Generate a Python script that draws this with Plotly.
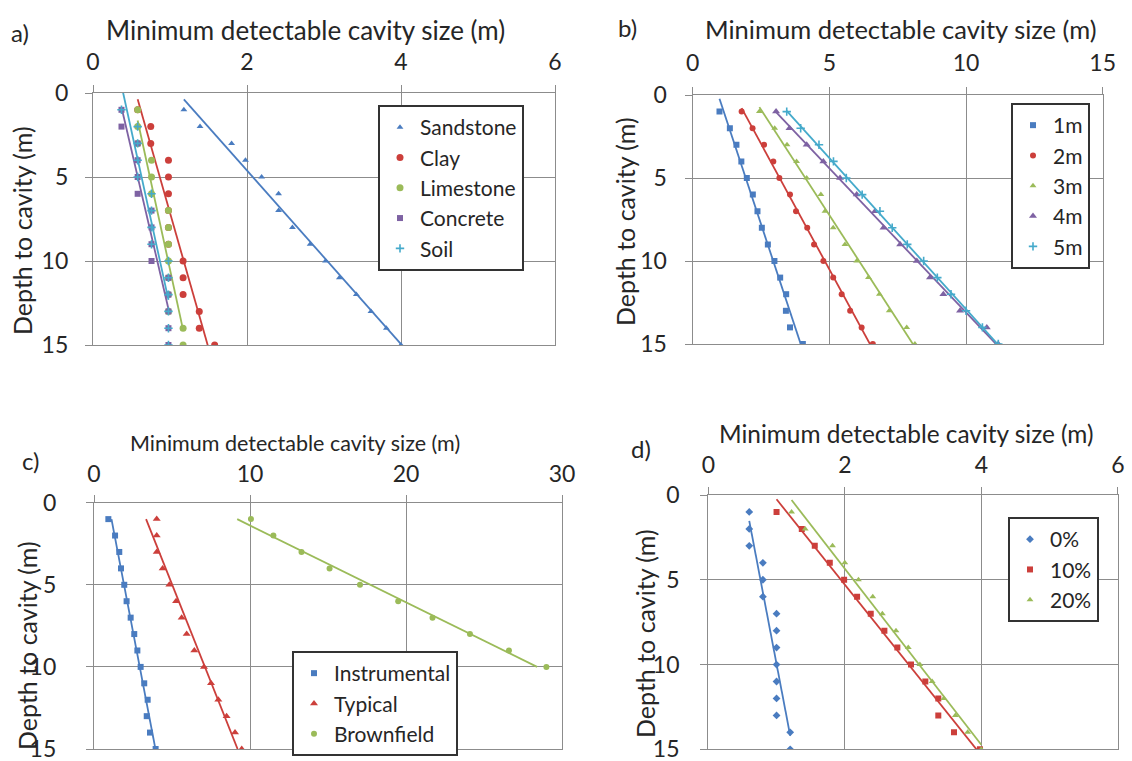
import numpy as np
import plotly.graph_objects as go

# ---------------- data ----------------
depth = list(range(1, 16))
depth10 = list(range(1, 11))

# panel a) materials
a_sandstone = [1.18, 1.39, 1.80, 1.98, 2.19, 2.41, 2.41, 2.59, 2.82, 3.02, 3.20, 3.42, 3.61, 3.81, 4.00]
a_clay      = [0.58, 0.75, 0.75, 0.98, 0.98, 0.98, 0.98, 0.98, 0.98, 1.17, 1.17, 1.17, 1.38, 1.38, 1.58]
a_limestone = [0.58, 0.58, 0.58, 0.76, 0.76, 0.76, 0.98, 0.98, 0.98, 0.98, 0.98, 0.98, 0.98, 1.17, 1.17]
a_concrete  = [0.37, 0.37, 0.58, 0.58, 0.58, 0.58, 0.76, 0.76, 0.76, 0.76, 0.98, 0.98, 0.98, 0.98, 0.98]
a_soil      = [0.37, 0.58, 0.58, 0.58, 0.58, 0.76, 0.76, 0.76, 0.76, 0.98, 0.98, 0.98, 0.98, 0.98, 0.98]

# panel b) cavity heights
b_1m = [0.98, 1.36, 1.60, 1.78, 1.98, 2.20, 2.37, 2.53, 2.75, 2.99, 3.20, 3.42, 3.41, 3.56, 4.03]
b_2m = [1.79, 2.19, 2.61, 2.95, 3.17, 3.56, 3.78, 4.19, 4.44, 4.78, 5.14, 5.45, 5.76, 6.18, 6.59]
b_3m = [2.44, 3.00, 3.45, 3.80, 4.17, 4.69, 4.84, 5.14, 5.57, 6.00, 6.43, 6.83, 7.19, 7.83, 8.13]
b_4m = [3.05, 3.54, 4.17, 4.78, 5.39, 6.00, 6.67, 6.98, 7.59, 8.20, 8.68, 9.17, 9.78, 10.76, 11.18]
b_5m = [3.44, 3.95, 4.62, 5.15, 5.62, 6.20, 6.85, 7.30, 7.85, 8.45, 8.95, 9.45, 10.00, 10.60, 11.18]

# panel c) noise conditions
c_instrumental = [0.92, 1.35, 1.62, 1.73, 1.94, 2.09, 2.35, 2.58, 2.78, 2.99, 3.22, 3.44, 3.38, 3.59, 3.95]
c_typical      = [4.02, 4.02, 4.02, 4.40, 4.83, 5.26, 5.62, 5.94, 6.43, 7.05, 7.50, 7.97, 8.50, 9.04, 9.47]
c_brownfield   = [10.06, 11.5, 13.3, 15.1, 17.05, 19.5, 21.7, 24.1, 26.6, 29.0]

# panel d) noise percentage
d_0  = [0.60, 0.60, 0.60, 0.80, 0.80, 0.80, 1.00, 1.00, 1.00, 1.00, 1.00, 1.00, 1.00, 1.20, 1.20]
d_10 = [1.00, 1.37, 1.56, 1.78, 1.99, 2.18, 2.38, 2.58, 2.77, 2.97, 3.18, 3.37, 3.37, 3.60, 3.98]
d_20 = [1.22, 1.42, 1.82, 2.00, 2.20, 2.41, 2.55, 2.75, 2.93, 3.10, 3.28, 3.45, 3.62, 3.80, 4.00]

x_title = "Minimum detectable cavity size (m)"
y_title = "Depth to cavity (m)"
panel_labels = ["a)", "b)", "c)", "d)"]

BLUE, RED, GREEN, PURPLE, AQUA = "#4a7cc0", "#cc3f3b", "#9bbb59", "#7e62a3", "#45aacb"
FONT = "Lato"
TXT = "#262626"
GRID = "#8c8c8c"

W, H = 1132, 761
def PX(px):
    return px / W
def PY(py):
    return 1 - py / H

fig = go.Figure()

def add_series(x, y, name, color, symbol, size, ax, legend, fit="yx"):
    xa, ya = ("x", "y") if ax == 1 else (f"x{ax}", f"y{ax}")
    mk = dict(color=color, symbol=symbol, size=size)
    if symbol.endswith("-thin"):
        mk["line"] = dict(color=color, width=1.6)
    fig.add_trace(go.Scatter(x=x, y=y, mode="markers", name=name, marker=mk,
                             xaxis=xa, yaxis=ya, legend=legend, showlegend=True))
    xs, ys = np.array(x, float), np.array(y, float)
    if fit == "yx":
        b, a = np.polyfit(xs, ys, 1)
        lx = np.array([xs.min(), xs.max()])
        ly = a + b * lx
    else:
        b, a = np.polyfit(ys, xs, 1)
        ly = np.array([ys.min(), ys.max()])
        lx = a + b * ly
    fig.add_trace(go.Scatter(x=lx, y=ly, mode="lines", line=dict(color=color, width=1.8),
                             xaxis=xa, yaxis=ya, showlegend=False, hoverinfo="skip"))

# panel a
add_series(a_sandstone, depth, "Sandstone", BLUE, "triangle-up", 6, 1, "legend")
add_series(a_clay, depth, "Clay", RED, "circle", 7, 1, "legend")
add_series(a_limestone, depth, "Limestone", GREEN, "circle", 7, 1, "legend")
add_series(a_concrete, depth, "Concrete", PURPLE, "square", 6, 1, "legend")
add_series(a_soil, depth, "Soil", AQUA, "cross-thin", 6, 1, "legend")
# panel b
add_series(b_1m, depth, "1m", BLUE, "square", 6, 2, "legend2")
add_series(b_2m, depth, "2m", RED, "circle", 6, 2, "legend2")
add_series(b_3m, depth, "3m", GREEN, "triangle-up", 6, 2, "legend2")
add_series(b_4m, depth, "4m", PURPLE, "triangle-up", 7, 2, "legend2")
add_series(b_5m, depth, "5m", AQUA, "cross-thin", 6, 2, "legend2")
# panel c
add_series(c_instrumental, depth, "Instrumental", BLUE, "square", 6, 3, "legend3", fit="xy")
add_series(c_typical, depth, "Typical", RED, "triangle-up", 7, 3, "legend3", fit="xy")
add_series(c_brownfield, depth10, "Brownfield", GREEN, "circle", 6, 3, "legend3", fit="xy")
# panel d
add_series(d_0, depth, "0%", BLUE, "diamond", 6, 4, "legend4")
add_series(d_10, depth, "10%", RED, "square", 6, 4, "legend4")
add_series(d_20, depth, "20%", GREEN, "triangle-up", 6, 4, "legend4")

# layout of the four panels (pixel positions)
panels = {
    1: dict(xd=(93, 555), yd=(93, 345), xr=[0, 6], dt=2, xstand=6, ystand=12,
            xt=(305, 30, 26), yt=(22, 231), lab=(20, 33)),
    2: dict(xd=(692.7, 1102.7), yd=(95, 344), xr=[0, 15], dt=5, xstand=7, ystand=13,
            xt=(901, 29, 25.5), yt=(625, 222), lab=(627, 28)),
    3: dict(xd=(94, 562), yd=(502.7, 749), xr=[0, 30], dt=10, xstand=3, ystand=25,
            xt=(295, 443, 21.5), yt=(27, 646), lab=(30, 460)),
    4: dict(xd=(708.3, 1117.8), yd=(495, 749.3), xr=[0, 6], dt=2, xstand=5, ystand=16,
            xt=(906, 433, 24.4), yt=(645, 634), lab=(641, 448)),
}

axis_common = dict(showgrid=True, gridcolor=GRID, gridwidth=1.3, showline=True, linecolor=GRID,
                   linewidth=1.3, mirror=True, ticks="outside", ticklen=7, tickcolor=GRID,
                   tickwidth=1.3, zeroline=False, ticklabeloverflow="allow",
                   tickfont=dict(family=FONT, size=23, color=TXT))

for i, p in panels.items():
    xk = "xaxis" if i == 1 else f"xaxis{i}"
    yk = "yaxis" if i == 1 else f"yaxis{i}"
    ya = "y" if i == 1 else f"y{i}"
    xa = "x" if i == 1 else f"x{i}"
    fig.update_layout({
        xk: dict(axis_common, domain=[PX(p["xd"][0]), PX(p["xd"][1])], range=p["xr"], dtick=p["dt"],
                 side="top", anchor=ya, ticklabelstandoff=p["xstand"]),
        yk: dict(axis_common, domain=[PY(p["yd"][1]), PY(p["yd"][0])], range=[15, 0], dtick=5,
                 anchor=xa, ticklabelstandoff=p["ystand"]),
    })
    tx, ty, ts = p["xt"]
    fig.add_annotation(text=x_title, x=PX(tx), y=PY(ty), xref="paper", yref="paper", showarrow=False,
                       xanchor="center", yanchor="middle", font=dict(family=FONT, size=ts, color=TXT))
    fig.add_annotation(text=y_title, x=PX(p["yt"][0]), y=PY(p["yt"][1]), xref="paper", yref="paper",
                       showarrow=False, textangle=-90, xanchor="center", yanchor="middle",
                       font=dict(family=FONT, size=25, color=TXT))
    fig.add_annotation(text=panel_labels[i - 1], x=PX(p["lab"][0]), y=PY(p["lab"][1]), xref="paper",
                       yref="paper", showarrow=False, xanchor="center", yanchor="middle",
                       font=dict(family=FONT, size=24, color=TXT))

leg_common = dict(xanchor="left", yanchor="top", bgcolor="white", bordercolor="#333333", borderwidth=2,
                  font=dict(family=FONT, size=21, color=TXT), itemsizing="trace", tracegroupgap=0)
fig.update_layout(
    legend=dict(leg_common, x=PX(378), y=PY(105)),
    legend2=dict(leg_common, x=PX(1011), y=PY(103)),
    legend3=dict(leg_common, x=PX(292), y=PY(651)),
    legend4=dict(leg_common, x=PX(1008), y=PY(517)),
)

fig.update_layout(width=W, height=H, margin=dict(l=0, r=0, t=0, b=0, autoexpand=False),
                  paper_bgcolor="white", plot_bgcolor="white", font=dict(family=FONT, color=TXT))

fig.write_html("out.html", config={"displayModeBar": False},
               post_script="document.body.style.margin='0';document.body.style.padding='0';")
